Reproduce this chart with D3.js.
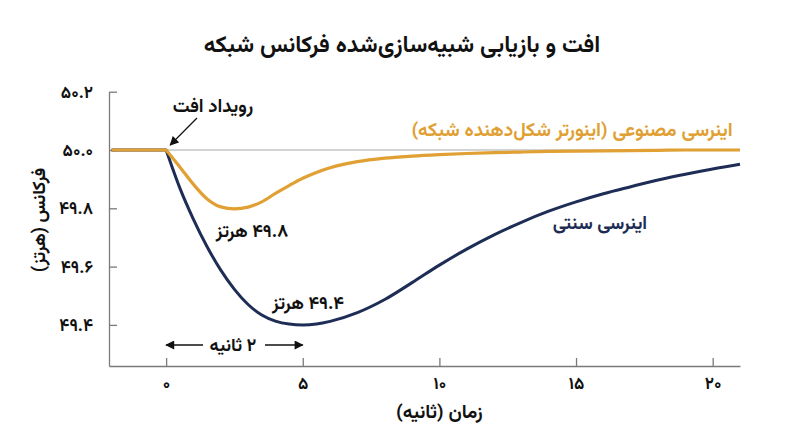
<!DOCTYPE html>
<html lang="fa">
<head>
<meta charset="utf-8">
<script src="https://cdn.jsdelivr.net/npm/d3@7/dist/d3.min.js"></script>
<style>
  html, body { margin: 0; padding: 0; background: #fff; }
  svg text { font-family: Vazirmatn, "Noto Sans Arabic", "DejaVu Sans", sans-serif; }
</style>
</head>
<body>
<div id="chart"></div>
<script>
// time (s) and frequency (Hz)
const times = [-2, -1, 0, 0.5, 1, 1.5, 2, 2.5, 3, 3.5, 4, 4.5, 5, 5.5, 6, 7, 8, 9, 10, 11, 12, 13, 14, 15, 16, 17, 18, 19, 20, 21];
const syntheticInertia = [50.0, 50.0, 50.0, 49.942, 49.882, 49.832, 49.805, 49.798, 49.804, 49.822, 49.851, 49.878, 49.903, 49.923, 49.939, 49.96, 49.972, 49.979, 49.984, 49.988, 49.991, 49.993, 49.995, 49.996, 49.997, 49.998, 49.999, 50.0, 50.0, 50.0];
const conventionalInertia = [50.0, 50.0, 50.0, 49.87, 49.762, 49.668, 49.588, 49.522, 49.47, 49.434, 49.413, 49.403, 49.400, 49.403, 49.412, 49.442, 49.487, 49.545, 49.605, 49.66, 49.709, 49.752, 49.79, 49.822, 49.85, 49.874, 49.897, 49.917, 49.935, 49.951];

const xTicks = [0, 5, 10, 15, 20];
const xTickLabels = ["۰", "۵", "۱۰", "۱۵", "۲۰"];
const yTicks = [50.2, 50.0, 49.8, 49.6, 49.4];
const yTickLabels = ["۵۰.۲", "۵۰.۰", "۴۹.۸", "۴۹.۶", "۴۹.۴"];

const title = "افت و بازیابی شبیه‌سازی‌شده فرکانس شبکه";
const xTitle = "زمان (ثانیه)";
const yTitle = "فرکانس (هرتز)";
const syntheticLabel = "اینرسی مصنوعی (اینورتر شکل‌دهنده شبکه)";
const conventionalLabel = "اینرسی سنتی";
const dropLabel = "رویداد افت";
const durationLabel = "۲ ثانیه";
const syntheticMinLabel = "۴۹.۸ هرتز";
const conventionalMinLabel = "۴۹.۴ هرتز";

const width = 800, height = 447;
const orange = "#e0a033", navy = "#1e2d55", axisGray = "#7a7a7a";
const fontStack = 'Vazirmatn, "Noto Sans Arabic", "DejaVu Sans", sans-serif';

const x = d3.scaleLinear().domain([-2.09, 21]).range([109, 740]);
const y = d3.scaleLinear().domain([49.259, 50.2]).range([366, 91.7]);

const svg = d3.select("#chart").append("svg")
  .attr("width", width)
  .attr("height", height);

svg.append("defs").append("marker")
  .attr("id", "arrow")
  .attr("viewBox", "0 0 10 10")
  .attr("refX", 9).attr("refY", 5)
  .attr("markerWidth", 10).attr("markerHeight", 9)
  .attr("markerUnits", "userSpaceOnUse")
  .attr("orient", "auto-start-reverse")
  .append("path")
  .attr("d", "M0,0 L10,5 L0,10 z")
  .attr("fill", "#111");

function label(txt, cx, cy, size, color) {
  return svg.append("text")
    .attr("x", cx).attr("y", cy)
    .attr("text-anchor", "middle")
    .attr("direction", "rtl")
    .attr("font-size", size).attr("font-weight", "bold")
    .attr("fill", color || "#111")
    .text(txt);
}

// title
label(title, 402, 52, 23);

// axes (ticks point inward)
const xAxis = svg.append("g")
  .attr("transform", `translate(0,${y.range()[0]})`)
  .call(d3.axisBottom(x).tickValues(xTicks).tickSizeInner(-8).tickSizeOuter(0)
    .tickFormat((d, i) => xTickLabels[i]));
const yAxis = svg.append("g")
  .attr("transform", `translate(${x.range()[0]},0)`)
  .call(d3.axisLeft(y).tickValues(yTicks).tickSizeInner(-8).tickSizeOuter(0)
    .tickFormat((d, i) => yTickLabels[i]));

[xAxis, yAxis].forEach(g => {
  g.select(".domain").attr("stroke", axisGray).attr("stroke-width", 1.3);
  g.selectAll(".tick line").attr("stroke", axisGray).attr("stroke-width", 1.3);
  g.selectAll(".tick text")
    .attr("fill", "#111")
    .attr("font-size", 17)
    .attr("font-weight", "bold")
    .attr("font-family", fontStack);
});
xAxis.selectAll(".tick text").attr("y", 11).attr("dy", "0.71em");
yAxis.selectAll(".tick text").attr("x", -16);

// axis titles
label(xTitle, x(10), 418, 19);

svg.append("text")
  .attr("transform", "translate(45,220) rotate(-90)")
  .attr("text-anchor", "middle")
  .attr("direction", "rtl")
  .attr("font-size", 18).attr("font-weight", "bold")
  .attr("fill", "#111")
  .text(yTitle);

// 50 Hz reference line
svg.append("line")
  .attr("x1", x(0)).attr("x2", x.range()[1])
  .attr("y1", y(50.0)).attr("y2", y(50.0))
  .attr("stroke", "#c4c4c4").attr("stroke-width", 1.3);

// flat part before the event, then the response from t = 0
const eventIdx = times.indexOf(0);
const flatLine = d3.line()
  .x(d => x(d[0])).y(d => y(d[1]));
const responseLine = d3.line()
  .x(d => x(d[0])).y(d => y(d[1]))
  .curve(d3.curveMonotoneX);

function drawSeries(values, color, w) {
  const pts = times.map((t, i) => [t, values[i]]);
  const d = flatLine(pts.slice(0, eventIdx + 1)) + responseLine(pts.slice(eventIdx)).replace(/^M/, "L");
  svg.append("path")
    .attr("d", d)
    .attr("fill", "none")
    .attr("stroke", color)
    .attr("stroke-width", w)
    .attr("stroke-linejoin", "round");
}

drawSeries(conventionalInertia, navy, 3);
drawSeries(syntheticInertia, orange, 3.2);

// labels
label(syntheticLabel, 572, 136, 19, orange);
label(conventionalLabel, 600, 229, 18.5, navy);
label(syntheticMinLabel, 252, 237, 18);
label(conventionalMinLabel, 308, 309, 18);

// drop event annotation
label(dropLabel, 213, 112, 18.5);

svg.append("line")
  .attr("x1", 197).attr("y1", 118)
  .attr("x2", x(0.15)).attr("y2", y(50.0) - 5)
  .attr("stroke", "#111").attr("stroke-width", 1.2)
  .attr("marker-end", "url(#arrow)");

// duration annotation
const durY = 345;
label(durationLabel, 233, durY + 6, 18);

svg.append("line")
  .attr("x1", 203).attr("x2", x(0))
  .attr("y1", durY).attr("y2", durY)
  .attr("stroke", "#111").attr("stroke-width", 1.3)
  .attr("marker-end", "url(#arrow)");

svg.append("line")
  .attr("x1", 265).attr("x2", x(5))
  .attr("y1", durY).attr("y2", durY)
  .attr("stroke", "#111").attr("stroke-width", 1.3)
  .attr("marker-end", "url(#arrow)");
</script>
</body>
</html>
